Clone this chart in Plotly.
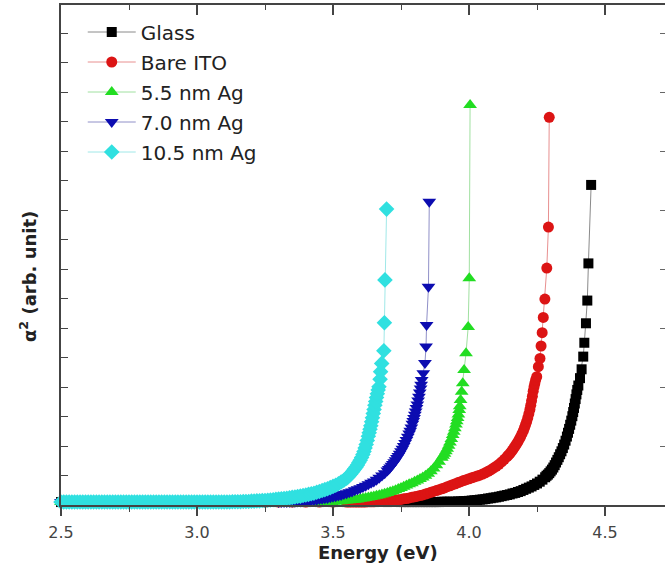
import plotly.graph_objects as go

# ---------------- data ----------------
series_names = ["Glass", "Bare ITO", "5.5 nm Ag", "7.0 nm Ag", "10.5 nm Ag"]

glass_E = [2.50, 2.55, 2.60, 2.65, 2.70, 2.75, 2.80, 2.85, 2.90, 2.95, 3.00, 3.05, 3.10, 3.15,
           3.20, 3.25, 3.30, 3.35, 3.40, 3.45, 3.50, 3.55, 3.60, 3.65, 3.70, 3.75,
           3.76, 3.77, 3.78, 3.79, 3.80, 3.81, 3.82, 3.83, 3.84, 3.85, 3.86, 3.87, 3.88, 3.89,
           3.90, 3.91, 3.92, 3.93, 3.94, 3.95, 3.96, 3.97, 3.98, 3.99, 4.00, 4.01, 4.02, 4.03,
           4.04, 4.05, 4.06, 4.07, 4.08, 4.09, 4.10, 4.11, 4.12, 4.13, 4.14, 4.15, 4.16, 4.17,
           4.18, 4.19, 4.20, 4.21, 4.22, 4.23, 4.24, 4.25, 4.26, 4.27, 4.28, 4.285, 4.29, 4.295,
           4.30, 4.305, 4.31, 4.315, 4.32, 4.325, 4.33, 4.335, 4.34, 4.345, 4.35, 4.355, 4.36,
           4.364, 4.368, 4.372, 4.376, 4.380, 4.383, 4.386, 4.389, 4.392, 4.395, 4.398, 4.402,
           4.408, 4.414, 4.420, 4.424, 4.430, 4.435, 4.439, 4.449]
glass_A = [0.10, 0.10, 0.10, 0.10, 0.10, 0.10, 0.10, 0.10, 0.10, 0.10, 0.10, 0.10, 0.10, 0.10,
           0.10, 0.10, 0.10, 0.10, 0.10, 0.10, 0.10, 0.10, 0.10, 0.10, 0.10, 0.10,
           0.10, 0.10, 0.10, 0.10, 0.10, 0.10, 0.10, 0.10, 0.10, 0.10, 0.10, 0.10, 0.10, 0.10,
           0.11, 0.11, 0.11, 0.11, 0.11, 0.11, 0.12, 0.12, 0.13, 0.13, 0.14, 0.15, 0.16, 0.17,
           0.18, 0.19, 0.20, 0.22, 0.23, 0.25, 0.26, 0.28, 0.30, 0.32, 0.34, 0.36, 0.39, 0.41,
           0.44, 0.47, 0.51, 0.55, 0.59, 0.63, 0.68, 0.73, 0.79, 0.86, 0.94, 0.99, 1.03, 1.08,
           1.14, 1.20, 1.27, 1.35, 1.44, 1.53, 1.62, 1.72, 1.82, 1.93, 2.05, 2.18, 2.32,
           2.45, 2.58, 2.72, 2.86, 3.01, 3.15, 3.29, 3.44, 3.59, 3.75, 3.90, 4.05,
           4.30, 4.60, 5.03, 5.50, 6.16, 6.93, 8.19, 10.85]

ito_E = [2.50, 2.55, 2.60, 2.65, 2.70, 2.75, 2.80, 2.85, 2.90, 2.95, 3.00, 3.05, 3.10, 3.15,
         3.20, 3.25, 3.30, 3.35, 3.40, 3.45, 3.50, 3.55,
         3.56, 3.57, 3.58, 3.59, 3.60, 3.61, 3.62, 3.63, 3.64, 3.65, 3.66, 3.67, 3.68, 3.69,
         3.70, 3.71, 3.72, 3.73, 3.74, 3.75, 3.76, 3.77, 3.78, 3.79, 3.80, 3.81, 3.82, 3.83,
         3.84, 3.85, 3.86, 3.87, 3.88, 3.89, 3.90, 3.91, 3.92, 3.93, 3.94, 3.95, 3.96, 3.97,
         3.98, 3.99, 4.00, 4.01, 4.02, 4.03, 4.04, 4.05, 4.06, 4.07, 4.08, 4.09, 4.10, 4.11,
         4.12, 4.13, 4.14, 4.145, 4.15, 4.155, 4.16, 4.165, 4.17, 4.175, 4.18, 4.185, 4.19,
         4.195, 4.20, 4.204, 4.208, 4.212, 4.216, 4.220, 4.224, 4.227, 4.230, 4.233, 4.236,
         4.239, 4.242, 4.245, 4.249, 4.255, 4.261, 4.265, 4.269, 4.273, 4.279, 4.286, 4.292,
         4.295]
ito_A = [0.10, 0.10, 0.10, 0.10, 0.10, 0.10, 0.10, 0.10, 0.10, 0.10, 0.10, 0.10, 0.10, 0.10,
         0.10, 0.10, 0.10, 0.10, 0.10, 0.10, 0.10, 0.10,
         0.10, 0.10, 0.10, 0.10, 0.10, 0.10, 0.10, 0.11, 0.11, 0.11, 0.12, 0.12, 0.13, 0.13,
         0.14, 0.15, 0.16, 0.17, 0.18, 0.19, 0.21, 0.22, 0.24, 0.26, 0.28, 0.30, 0.32, 0.34,
         0.37, 0.40, 0.43, 0.46, 0.49, 0.52, 0.55, 0.58, 0.62, 0.65, 0.69, 0.72, 0.76, 0.79,
         0.83, 0.86, 0.89, 0.92, 0.95, 0.98, 1.01, 1.05, 1.09, 1.14, 1.19, 1.25, 1.31, 1.38,
         1.46, 1.55, 1.64, 1.69, 1.74, 1.80, 1.86, 1.93, 2.00, 2.07, 2.15, 2.23, 2.32,
         2.42, 2.52, 2.62, 2.72, 2.83, 2.95, 3.09, 3.24, 3.38, 3.53, 3.69, 3.86,
         4.00, 4.12, 4.24, 4.35, 4.69, 4.97, 5.39, 5.84, 6.36, 6.98, 8.03, 9.42,
         13.14]

ag55_E = [2.50, 2.55, 2.60, 2.65, 2.70, 2.75, 2.80, 2.85, 2.90, 2.95, 3.00, 3.05, 3.10, 3.15,
          3.20, 3.25, 3.30, 3.35, 3.40, 3.45,
          3.46, 3.47, 3.48, 3.49, 3.50, 3.51, 3.52, 3.53, 3.54, 3.55, 3.56, 3.57, 3.58, 3.59,
          3.60, 3.61, 3.62, 3.63, 3.64, 3.65, 3.66, 3.67, 3.68, 3.69, 3.70, 3.71, 3.72, 3.73,
          3.74, 3.75, 3.76, 3.77, 3.78, 3.79, 3.80, 3.81, 3.82, 3.83, 3.84, 3.85, 3.86, 3.87,
          3.88, 3.89, 3.90, 3.905, 3.91, 3.915, 3.92, 3.925, 3.93, 3.935, 3.94, 3.944, 3.948,
          3.952, 3.955, 3.958, 3.961, 3.964, 3.966, 3.969, 3.973, 3.977, 3.982, 3.989, 3.997,
          4.001, 4.004]
ag55_A = [0.10, 0.10, 0.10, 0.10, 0.10, 0.10, 0.10, 0.10, 0.10, 0.10, 0.10, 0.10, 0.10, 0.10,
          0.10, 0.10, 0.10, 0.10, 0.10, 0.10,
          0.11, 0.11, 0.11, 0.12, 0.12, 0.12, 0.13, 0.13, 0.14, 0.15, 0.16, 0.17, 0.18, 0.19,
          0.21, 0.22, 0.24, 0.25, 0.27, 0.29, 0.31, 0.33, 0.36, 0.38, 0.41, 0.44, 0.47, 0.50,
          0.54, 0.58, 0.62, 0.66, 0.70, 0.74, 0.79, 0.83, 0.88, 0.93, 0.99, 1.06, 1.14, 1.24,
          1.35, 1.47, 1.60, 1.67, 1.74, 1.82, 1.91, 2.01, 2.12, 2.24, 2.37, 2.48, 2.60,
          2.73, 2.84, 2.95, 3.07, 3.22, 3.35, 3.56, 3.84, 4.13, 4.58, 5.14, 6.03,
          7.69, 13.56]

ag70_E = [2.50, 2.55, 2.60, 2.65, 2.70, 2.75, 2.80, 2.85, 2.90, 2.95, 3.00, 3.05, 3.10, 3.15,
          3.20, 3.25, 3.30,
          3.31, 3.32, 3.33, 3.34, 3.35, 3.36, 3.37, 3.38, 3.39, 3.40, 3.41, 3.42, 3.43, 3.44,
          3.45, 3.46, 3.47, 3.48, 3.49, 3.50, 3.51, 3.52, 3.53, 3.54, 3.55, 3.56, 3.57, 3.58,
          3.59, 3.60, 3.61, 3.62, 3.63, 3.64, 3.65, 3.66, 3.67, 3.68, 3.69, 3.70, 3.705, 3.71,
          3.715, 3.72, 3.725, 3.73, 3.735, 3.74, 3.745, 3.75, 3.755, 3.76, 3.765, 3.77, 3.775,
          3.78, 3.784, 3.788, 3.792, 3.795, 3.798, 3.801, 3.804, 3.807, 3.810, 3.813, 3.816,
          3.819, 3.822, 3.824, 3.826, 3.832, 3.838, 3.842, 3.844, 3.851, 3.854]
ag70_A = [0.10, 0.10, 0.10, 0.10, 0.10, 0.10, 0.10, 0.10, 0.10, 0.10, 0.10, 0.10, 0.10, 0.10,
          0.10, 0.10, 0.10,
          0.10, 0.10, 0.10, 0.11, 0.11, 0.11, 0.12, 0.12, 0.13, 0.13, 0.14, 0.15, 0.17, 0.18,
          0.20, 0.21, 0.23, 0.24, 0.26, 0.28, 0.30, 0.32, 0.34, 0.37, 0.40, 0.43, 0.46, 0.50,
          0.53, 0.57, 0.61, 0.65, 0.70, 0.75, 0.80, 0.86, 0.92, 1.00, 1.08, 1.17, 1.22, 1.27,
          1.33, 1.39, 1.45, 1.52, 1.59, 1.66, 1.74, 1.82, 1.91, 2.00, 2.10, 2.20, 2.31,
          2.42, 2.52, 2.63, 2.75, 2.85, 2.95, 3.06, 3.17, 3.29, 3.41, 3.54, 3.67,
          3.81, 3.95, 4.08, 4.24, 4.47, 4.81, 5.37, 6.10, 7.40, 10.28]

ag105_E = [2.50, 2.51, 2.52, 2.53, 2.54, 2.55, 2.56, 2.57, 2.58, 2.59, 2.60, 2.61, 2.62, 2.63,
           2.64, 2.65, 2.66, 2.67, 2.68, 2.69, 2.70, 2.71, 2.72, 2.73, 2.74, 2.75, 2.76, 2.77,
           2.78, 2.79, 2.80, 2.81, 2.82, 2.83, 2.84, 2.85, 2.86, 2.87, 2.88, 2.89, 2.90, 2.91,
           2.92, 2.93, 2.94, 2.95, 2.96, 2.97, 2.98, 2.99, 3.00, 3.01, 3.02, 3.03, 3.04, 3.05,
           3.06, 3.07, 3.08, 3.09, 3.10, 3.11, 3.12, 3.13, 3.14, 3.15, 3.16, 3.17, 3.18, 3.19,
           3.20, 3.21, 3.22, 3.23, 3.24, 3.25, 3.26, 3.27, 3.28, 3.29, 3.30, 3.31, 3.32, 3.33,
           3.34, 3.35, 3.36, 3.37, 3.38, 3.39, 3.40, 3.41, 3.42, 3.43, 3.44, 3.45, 3.46, 3.47,
           3.48, 3.49, 3.50, 3.51, 3.52, 3.53, 3.54, 3.55, 3.555, 3.56, 3.565, 3.57, 3.575,
           3.58, 3.585, 3.59, 3.595, 3.60, 3.605, 3.61, 3.614, 3.618, 3.622, 3.626, 3.630,
           3.633, 3.636, 3.639, 3.642, 3.645, 3.648, 3.651, 3.654, 3.657, 3.660, 3.663, 3.666,
           3.669, 3.673, 3.675, 3.679, 3.687, 3.689, 3.691, 3.697]
ag105_A = [0.10, 0.10, 0.10, 0.10, 0.10, 0.10, 0.10, 0.10, 0.10, 0.10, 0.10, 0.10, 0.10, 0.10,
           0.10, 0.10, 0.10, 0.10, 0.10, 0.10, 0.10, 0.10, 0.10, 0.10, 0.10, 0.10, 0.10, 0.10,
           0.10, 0.10, 0.10, 0.10, 0.10, 0.10, 0.10, 0.10, 0.10, 0.10, 0.10, 0.10, 0.10, 0.10,
           0.10, 0.10, 0.10, 0.10, 0.10, 0.10, 0.10, 0.10, 0.10, 0.10, 0.10, 0.10, 0.10, 0.10,
           0.10, 0.10, 0.10, 0.10, 0.10, 0.10, 0.10, 0.11, 0.11, 0.11, 0.11, 0.12, 0.12, 0.12,
           0.13, 0.13, 0.14, 0.14, 0.15, 0.15, 0.16, 0.17, 0.18, 0.19, 0.20, 0.21, 0.22, 0.23,
           0.24, 0.26, 0.27, 0.29, 0.30, 0.32, 0.34, 0.36, 0.38, 0.40, 0.43, 0.46, 0.49, 0.52,
           0.55, 0.59, 0.63, 0.67, 0.72, 0.78, 0.84, 0.91, 0.95, 1.00, 1.05, 1.11, 1.17,
           1.23, 1.29, 1.36, 1.44, 1.52, 1.61, 1.71, 1.81, 1.93, 2.05, 2.19, 2.33,
           2.45, 2.57, 2.69, 2.82, 2.96, 3.10, 3.24, 3.38, 3.51, 3.64, 3.77, 3.90,
           4.01, 4.26, 4.52, 4.80, 5.23, 6.18, 7.63, 10.03]

x_tick_vals = [2.5, 3.0, 3.5, 4.0, 4.5]
x_tick_text = ["2.5", "3.0", "3.5", "4.0", "4.5"]

# ---------------- styling ----------------
styles = [
    dict(symbol="square", size=10, color="#000000", line="#8a8a8a"),
    dict(symbol="circle", size=11, color="#dc1414", line="#e89090"),
    dict(symbol="triangle-up", size=12, color="#22dd22", line="#a0e0a0"),
    dict(symbol="triangle-down", size=12, color="#0c0cb0", line="#9090c8"),
    dict(symbol="diamond", size=12, color="#30e0e0", line="#a0e8e8"),
]
data = [(glass_E, glass_A), (ito_E, ito_A), (ag55_E, ag55_A), (ag70_E, ag70_A), (ag105_E, ag105_A)]

FONT = "DejaVu Sans"
AX = "#444444"

fig = go.Figure()
for i, (name, (E, A), st) in enumerate(zip(series_names, data, styles)):
    fig.add_trace(go.Scatter(
        x=E, y=A, name=name, mode="lines+markers",
        line=dict(color=st["line"], width=1),
        marker=dict(symbol=st["symbol"], size=st["size"], color=st["color"], line=dict(width=0)),
        cliponaxis=False, legendgroup=f"g{i}",
    ))

# helper traces so the mirrored axes exist
fig.add_trace(go.Scatter(x=[None], y=[None], xaxis="x2", yaxis="y", showlegend=False, hoverinfo="skip"))
fig.add_trace(go.Scatter(x=[None], y=[None], xaxis="x", yaxis="y2", showlegend=False, hoverinfo="skip"))

xr = [2.5, 2.5 + 604 / 272]
yr = [0, 500 / 29.5]

fig.update_layout(
    width=665, height=575,
    margin=dict(l=61, r=0, t=5, b=70),
    paper_bgcolor="white", plot_bgcolor="white",
    showlegend=True,
    legend=dict(
        x=0.036, y=0.985, xanchor="left", yanchor="top",
        bgcolor="rgba(0,0,0,0)", borderwidth=0,
        font=dict(family=FONT, size=20, color="#222222"),
        itemwidth=48, traceorder="grouped", tracegroupgap=1,
    ),
    xaxis=dict(
        range=xr, showgrid=False, zeroline=False,
        showline=True, linecolor=AX, linewidth=1.5,
        tickmode="array", tickvals=x_tick_vals, ticktext=x_tick_text,
        ticks="outside", ticklen=9, tickwidth=1.5, tickcolor=AX, ticklabelstandoff=3,
        minor=dict(ticks="outside", ticklen=5, tickwidth=1.2, tickcolor=AX, dtick=0.25, tick0=2.5, showgrid=False),
        tickfont=dict(family=FONT, size=16, color="#444444"),
        anchor="y",
    ),
    xaxis2=dict(
        range=xr, overlaying="x", side="top", anchor="y", showgrid=False, zeroline=False,
        showline=True, linecolor=AX, linewidth=1.5,
        tickmode="linear", tick0=2.5, dtick=0.5,
        ticks="inside", ticklen=10, tickwidth=1.5, tickcolor=AX,
        minor=dict(ticks="inside", ticklen=5, tickwidth=1.2, tickcolor=AX, dtick=0.25, tick0=2.5, showgrid=False),
        showticklabels=False,
    ),
    yaxis=dict(
        range=yr, showgrid=False, zeroline=False,
        showline=True, linecolor=AX, linewidth=1.5,
        tickmode="linear", tick0=0, dtick=1,
        ticks="inside", ticklen=7, tickwidth=1.3, tickcolor=AX,
        showticklabels=False, anchor="x",
    ),
    yaxis2=dict(
        range=yr, overlaying="y", side="right", anchor="x", showgrid=False, zeroline=False,
        showline=False,
        tickmode="linear", tick0=0, dtick=2,
        ticks="inside", ticklen=5, tickwidth=1.2, tickcolor="#666666",
        showticklabels=False,
    ),
    annotations=[
        dict(text="<b>Energy (eV)</b>", xref="paper", yref="paper",
             x=(378 - 61) / 604, y=-(552 - 505) / 500, xanchor="center", yanchor="middle",
             showarrow=False, font=dict(family=FONT, size=18, color="#222222")),
        dict(text="<b>α<sup>2</sup> (arb. unit)</b>", xref="paper", yref="paper",
             x=(28 - 61) / 604, y=(505 - 277) / 500, xanchor="center", yanchor="middle",
             textangle=-90, showarrow=False, font=dict(family=FONT, size=18, color="#222222")),
    ],
)

fig.write_html("out.html")
